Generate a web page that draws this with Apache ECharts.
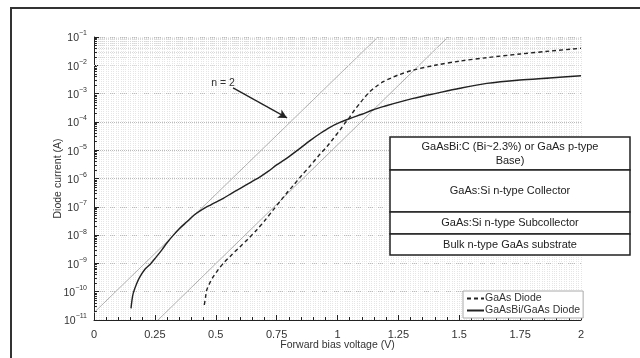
<!DOCTYPE html>
<html><head><meta charset="utf-8">
<script src="https://cdn.jsdelivr.net/npm/echarts@6/dist/echarts.min.js"></script>
<style>html,body{margin:0;padding:0;background:#fff}#c{width:640px;height:358px}</style>
</head><body><div id="c"></div>
<script>
// GaAs diode (dashed) — forward voltage (V) and log10 of current (A)
const gaasV    = [0.453, 0.458, 0.463, 0.475, 0.490, 0.510, 0.531, 0.565, 0.600, 0.635, 0.668, 0.700, 0.736, 0.765, 0.791, 0.818, 0.850, 0.887, 0.920, 0.956, 0.980, 1.010, 1.030, 1.051, 1.070, 1.092, 1.110, 1.133, 1.160, 1.188, 1.220, 1.250, 1.311, 1.400, 1.503, 1.613, 1.750, 1.870, 2.000];
const gaasLogI = [-10.47, -10.20, -9.94, -9.70, -9.47, -9.22, -9.00, -8.70, -8.41, -8.12, -7.82, -7.50, -7.11, -6.80, -6.52, -6.25, -5.92, -5.56, -5.22, -4.88, -4.62, -4.29, -4.05, -3.82, -3.58, -3.34, -3.15, -2.93, -2.74, -2.58, -2.45, -2.34, -2.17, -2.00, -1.85, -1.73, -1.60, -1.50, -1.40];
// GaAsBi/GaAs diode (solid)
const biV    = [0.152, 0.156, 0.161, 0.175, 0.189, 0.210, 0.230, 0.255, 0.278, 0.300, 0.326, 0.353, 0.381, 0.410, 0.442, 0.480, 0.531, 0.570, 0.613, 0.650, 0.682, 0.715, 0.750, 0.780, 0.805, 0.850, 0.887, 0.930, 0.969, 1.010, 1.051, 1.100, 1.147, 1.200, 1.257, 1.311, 1.400, 1.503, 1.613, 1.749, 1.870, 2.000];
const biLogI = [-10.59, -10.30, -10.06, -9.72, -9.47, -9.20, -9.04, -8.78, -8.53, -8.27, -8.00, -7.75, -7.53, -7.30, -7.11, -6.93, -6.70, -6.50, -6.29, -6.10, -5.94, -5.75, -5.52, -5.35, -5.20, -4.91, -4.66, -4.40, -4.19, -4.02, -3.88, -3.73, -3.57, -3.43, -3.29, -3.17, -3.00, -2.81, -2.64, -2.52, -2.45, -2.37];
// n = 2 reference lines
const ref1V = [0, 1.166];   const ref1LogI = [-10.74, -1];
const ref2V = [0.263, 1.454]; const ref2LogI = [-11, -1];
// arrow for the "n = 2" annotation
const arrowV = [0.571, 0.793]; const arrowLogI = [-2.80, -3.86];
// axis ticks
const xTickLabels = ['0', '0.25', '0.5', '0.75', '1', '1.25', '1.5', '1.75', '2'];
const yDecades = [-11, -10, -9, -8, -7, -6, -5, -4, -3, -2, -1];
const minorMult = [2, 3, 4, 5, 6, 7, 8, 9];
// names
const seriesNames = ['GaAs Diode', 'GaAsBi/GaAs Diode'];
const layerLabels = ['GaAsBi:C (Bi~2.3%) or GaAs p-type\nBase)', 'GaAs:Si n-type Collector', 'GaAs:Si n-type Subcollector', 'Bulk n-type GaAs substrate'];

const FONT = '"Liberation Sans", Arial, Helvetica, sans-serif';
const toPts = (xs, ls) => xs.map((x, i) => [x, Math.pow(10, ls[i])]);

const minorVals = [];
yDecades.slice(0, -1).forEach(e => minorMult.forEach(k => minorVals.push(k * Math.pow(10, e))));

const gridMarks = minorVals.map(v => ({ yAxis: v }));
const yMinorTicks = minorVals.map(v => [{ coord: [0, v] }, { coord: [0.012, v] }]);

// layer diagram
const boxL = 390, boxR = 630, rows = [137, 170, 212, 234, 255];
const layerGraphics = [];
for (let i = 0; i < 4; i++) {
  layerGraphics.push({
    type: 'rect', z: 100,
    shape: { x: boxL, y: rows[i], width: boxR - boxL, height: rows[i + 1] - rows[i] },
    style: { fill: '#fff', stroke: '#222', lineWidth: 1.5 }
  });
  layerGraphics.push({
    type: 'text', z: 101,
    style: {
      x: (boxL + boxR) / 2, y: (rows[i] + rows[i + 1]) / 2,
      text: layerLabels[i], align: 'center', verticalAlign: 'middle',
      font: '11px ' + FONT, fill: '#222', lineHeight: 14
    }
  });
}

const chart = echarts.init(document.getElementById('c'), null, { renderer: 'canvas' });
chart.setOption({
  animation: false,
  backgroundColor: '#fff',
  textStyle: { fontFamily: FONT },
  grid: { left: 94, right: 59, top: 37, bottom: 38 },
  legend: {
    left: 463, top: 291, orient: 'vertical', itemGap: 1, itemWidth: 17, itemHeight: 8,
    padding: [2, 3, 2, 3], borderColor: '#aaa', borderWidth: 1, backgroundColor: '#fff',
    textStyle: { fontSize: 10.5, color: '#333', padding: [0, 0, 0, -4] },
    itemStyle: { color: 'rgba(0,0,0,0)', borderWidth: 0, opacity: 0 },
    data: seriesNames, z: 50
  },
  xAxis: [{
    type: 'value', min: 0, max: 2, interval: 0.25,
    name: 'Forward bias voltage (V)', nameLocation: 'middle', nameGap: 20, nameMoveOverlap: false,
    nameTextStyle: { fontSize: 10.5, color: '#333' },
    axisLine: { show: true, lineStyle: { color: '#222', width: 1 } },
    axisTick: { show: true, inside: true, length: 5, lineStyle: { color: '#222' } },
    minorTick: { show: true, splitNumber: 5, length: 3, lineStyle: { color: '#222' } },
    axisLabel: { fontSize: 11, color: '#333', margin: 9, formatter: (v) => xTickLabels[Math.round(v / 0.25)] },
    splitLine: { show: true, lineStyle: { type: 'dotted', color: '#bbb' } },
    minorSplitLine: { show: false }
  }, {
    type: 'value', min: 0, max: 2, interval: 0.01, position: 'bottom',
    axisLine: { show: false }, axisTick: { show: false }, axisLabel: { show: false },
    splitLine: { show: true, lineStyle: { type: 'dotted', color: '#e6e6e6' } }
  }],
  yAxis: {
    type: 'log', logBase: 10, min: 1e-11, max: 1e-1, interval: 1, splitNumber: 10,
    name: 'Diode current (A)', nameLocation: 'middle', nameGap: 30, nameRotate: 90, nameMoveOverlap: false,
    nameTextStyle: { fontSize: 10.5, color: '#333' },
    axisLine: { show: true, lineStyle: { color: '#222', width: 1 } },
    axisTick: { show: true, inside: true, length: 5, lineStyle: { color: '#222' } },
    axisLabel: {
      margin: 7, color: '#333',
      formatter: (v) => '{b|10}{e|−' + Math.abs(Math.round(Math.log10(v))) + '}',
      rich: {
        b: { fontSize: 10.5, color: '#333', verticalAlign: 'bottom', lineHeight: 14 },
        e: { fontSize: 7, color: '#333', verticalAlign: 'top', lineHeight: 14, padding: [0, 0, 5, 0] }
      }
    },
    splitLine: { show: true, lineStyle: { type: 'dotted', color: '#bbb' } }
  },
  graphic: [
    { type: 'rect', z: -10, shape: { x: 11, y: 8, width: 700, height: 400 }, style: { fill: 'none', stroke: '#333', lineWidth: 2 } },
    { type: 'text', z: 20, style: { x: 223, y: 83, text: 'n = 2', align: 'center', verticalAlign: 'middle', font: '10.5px ' + FONT, fill: '#333' } }
  ].concat(layerGraphics),
  series: [
    {
      name: 'grid', type: 'line', data: [], silent: true, z: 1,
      markLine: {
        silent: true, symbol: ['none', 'none'], label: { show: false },
        lineStyle: { type: 'dotted', color: '#d8d8d8', width: 1 },
        data: gridMarks.concat(yMinorTicks.map(p => [
          Object.assign({}, p[0], { lineStyle: { type: 'solid', color: '#222', width: 1 } }), p[1]
        ]))
      }
    },
    {
      name: 'ref1', type: 'line', data: toPts(ref1V, ref1LogI), showSymbol: false, symbol: 'none', silent: true, z: 3,
      lineStyle: { color: '#b0b0b0', width: 1 }
    },
    {
      name: 'ref2', type: 'line', data: toPts(ref2V, ref2LogI), showSymbol: false, symbol: 'none', silent: true, z: 3,
      lineStyle: { color: '#b0b0b0', width: 1 },
      markLine: {
        silent: true, symbol: ['none', 'arrow'], symbolSize: [7, 9], label: { show: false },
        lineStyle: { type: 'solid', color: '#222', width: 1.3 },
        data: [[{ coord: [arrowV[0], Math.pow(10, arrowLogI[0])] }, { coord: [arrowV[1], Math.pow(10, arrowLogI[1])] }]]
      }
    },
    {
      name: seriesNames[0], type: 'line', data: toPts(gaasV, gaasLogI), smooth: 0.3, symbol: 'none', z: 5,
      lineStyle: { color: '#222', width: 1.4, type: [4, 3] }, itemStyle: { color: '#222' }
    },
    {
      name: seriesNames[1], type: 'line', data: toPts(biV, biLogI), smooth: 0.3, symbol: 'none', z: 5,
      lineStyle: { color: '#222', width: 1.4 }, itemStyle: { color: '#222' }
    }
  ]
});
</script></body></html>
